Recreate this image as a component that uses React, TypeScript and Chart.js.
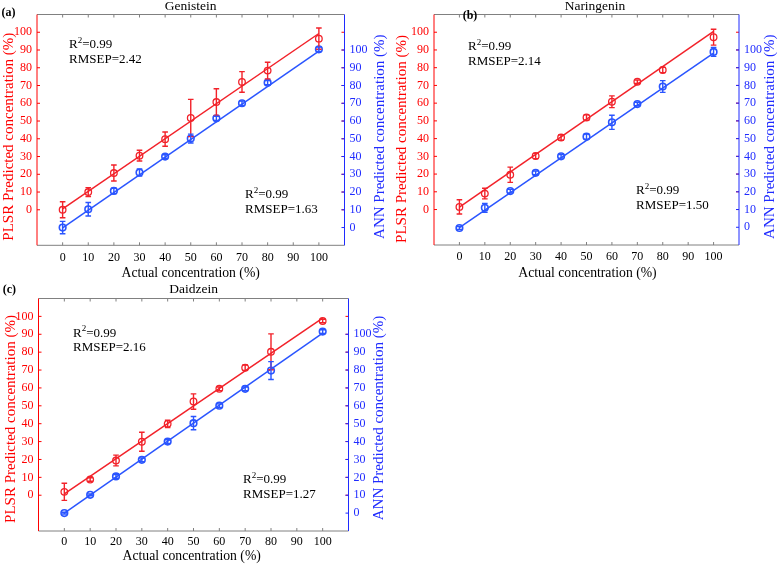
import React, { useEffect, useRef } from 'react';
import { Chart, registerables } from 'chart.js';

Chart.register(...registerables);

const FONT = '"Liberation Serif", "Times New Roman", Times, serif';
const RED_TEXT = '#ff0000';
const BLUE_TEXT = '#1f2bff';
const RED_LINE = '#f2222a';
const BLUE_LINE = '#2a55ff';
const GRAY = '#808080';

// ---- shared data ----
const concentrations = [0, 10, 20, 30, 40, 50, 60, 70, 80, 100];
const fitRange = [0, 100];
const xTickValues = [0, 10, 20, 30, 40, 50, 60, 70, 80, 90, 100];
const plsrTickValues = [0, 10, 20, 30, 40, 50, 60, 70, 80, 90, 100];
const annTickValues = [0, 10, 20, 30, 40, 50, 60, 70, 80, 90, 100];

// ---- (a) Genistein ----
const genPlsr = [0, 10, 20.7, 30.5, 39.8, 51.7, 60.7, 72, 78.4, 96.4];
const genPlsrErr = [4.5, 2.5, 4.5, 3, 4, 10.5, 7.5, 5.8, 4.7, 6];
const genAnn = [0, 10.3, 20.6, 31, 40, 50.1, 61.5, 70, 81.6, 100.4];
const genAnnErr = [3.5, 3.8, 1.5, 2, 1, 2.5, 1.2, 1.2, 1.2, 1.2];
const genPlsrFit = [0.5, 99.3];
const genAnnFit = [-0.2, 99.4];
const genPlsrStats = ['0.99', '2.42'];
const genAnnStats = ['0.99', '1.63'];

// ---- (b) Naringenin ----
const narPlsr = [1.5, 9, 19.6, 30.2, 40.6, 51.9, 60.8, 72.1, 78.7, 97.2];
const narPlsrErr = [4, 3, 4.3, 1.5, 1.5, 1.5, 3.3, 1, 1.5, 4.5];
const narAnn = [-0.4, 11, 20.4, 30.7, 40, 51.1, 59.2, 69.5, 79.4, 98.9];
const narAnnErr = [0.8, 2.5, 1, 1, 1, 1.5, 4, 1, 3.3, 2.5];
const narPlsrFit = [1.3, 100.5];
const narAnnFit = [-0.2, 98.2];
const narPlsrStats = ['0.99', '2.14'];
const narAnnStats = ['0.99', '1.50'];

// ---- (c) Daidzein ----
const daiPlsr = [1.9, 8.8, 19.4, 29.9, 39.9, 52.4, 59.5, 71.3, 80.2, 97.4];
const daiPlsrErr = [4.8, 1, 3, 5.3, 2, 4.3, 1, 1.5, 10, 1];
const daiAnn = [0, 10.2, 20.5, 29.8, 40, 50.3, 60.1, 69.5, 79.7, 101.5];
const daiAnnErr = [0.5, 0.5, 1, 1, 1, 3.7, 1, 1, 5, 1];
const daiPlsrFit = [0.7, 99];
const daiAnnFit = [0, 100.6];
const daiPlsrStats = ['0.99', '2.16'];
const daiAnnStats = ['0.99', '1.27'];

const X_TITLE = 'Actual concentration (%)';
const YL_TITLE = 'PLSR Predicted concentration (%)';
const YR_TITLE = 'ANN Predicted concentration (%)';

type Pt = { x: number; y: number };
type PanelSpec = {
  tag: string;
  title: string;
  plsr: number[];
  plsrErr: number[];
  ann: number[];
  annErr: number[];
  plsrFit: number[];
  annFit: number[];
  plsrStats: string[];
  annStats: string[];
  left: number;
  top: number;
  width: number;
  height: number;
  area: { l: number; r: number; t: number; b: number };
  tagPos: Pt;
  titlePos: Pt;
  xTitlePos: Pt;
  yLTitlePos: Pt;
  yRTitlePos: Pt;
  stat1: Pt;
  stat2: Pt;
  xTickPad: number;
};

const panels: PanelSpec[] = [
  {
    tag: '(a)', title: 'Genistein',
    plsr: genPlsr, plsrErr: genPlsrErr, ann: genAnn, annErr: genAnnErr,
    plsrFit: genPlsrFit, annFit: genAnnFit, plsrStats: genPlsrStats, annStats: genAnnStats,
    left: 0, top: 0, width: 390, height: 280,
    area: { l: 37, r: 344.5, t: 14.5, b: 245.3 },
    tagPos: { x: 1.5, y: 16 }, titlePos: { x: 190.7, y: 9.5 }, xTitlePos: { x: 190.7, y: 276.5 },
    yLTitlePos: { x: 12.5, y: 136.7 }, yRTitlePos: { x: 383.5, y: 136.7 },
    stat1: { x: 69, y: 48.3 }, stat2: { x: 245, y: 198 }, xTickPad: 5,
  },
  {
    tag: '(b)', title: 'Naringenin',
    plsr: narPlsr, plsrErr: narPlsrErr, ann: narAnn, annErr: narAnnErr,
    plsrFit: narPlsrFit, annFit: narAnnFit, plsrStats: narPlsrStats, annStats: narAnnStats,
    left: 390, top: 0, width: 390, height: 280,
    area: { l: 44, r: 349, t: 14.5, b: 245 },
    tagPos: { x: 72.7, y: 19 }, titlePos: { x: 205, y: 10 }, xTitlePos: { x: 197.5, y: 276.7 },
    yLTitlePos: { x: 16, y: 139 }, yRTitlePos: { x: 383.5, y: 136.7 },
    stat1: { x: 78, y: 50 }, stat2: { x: 246, y: 194 }, xTickPad: 5,
  },
  {
    tag: '(c)', title: 'Daidzein',
    plsr: daiPlsr, plsrErr: daiPlsrErr, ann: daiAnn, annErr: daiAnnErr,
    plsrFit: daiPlsrFit, annFit: daiAnnFit, plsrStats: daiPlsrStats, annStats: daiAnnStats,
    left: 0, top: 280, width: 390, height: 286,
    area: { l: 38.5, r: 348.5, t: 18.5, b: 251 },
    tagPos: { x: 2.7, y: 13 }, titlePos: { x: 193.7, y: 13.3 }, xTitlePos: { x: 191.7, y: 279.5 },
    yLTitlePos: { x: 14.5, y: 139 }, yRTitlePos: { x: 383.3, y: 138 },
    stat1: { x: 73, y: 56.7 }, stat2: { x: 243, y: 203 }, xTickPad: 4,
  },
];

function drawText(
  ctx: CanvasRenderingContext2D, s: string, x: number, y: number, size: number, color: string,
  align: CanvasTextAlign = 'left', rot = 0, weight = 'normal'
) {
  ctx.save();
  ctx.translate(x, y);
  if (rot) ctx.rotate(rot);
  ctx.font = `${weight} ${size}px ${FONT}`;
  ctx.fillStyle = color;
  ctx.textAlign = align;
  ctx.textBaseline = 'alphabetic';
  ctx.fillText(s, 0, 0);
  ctx.restore();
}

function drawStats(ctx: CanvasRenderingContext2D, pos: Pt, stats: string[]) {
  ctx.save();
  ctx.fillStyle = '#000';
  ctx.textBaseline = 'alphabetic';
  ctx.textAlign = 'left';
  ctx.font = `13px ${FONT}`;
  ctx.fillText('R', pos.x, pos.y);
  const w1 = ctx.measureText('R').width;
  ctx.font = `9px ${FONT}`;
  ctx.fillText('2', pos.x + w1, pos.y - 5.5);
  const w2 = ctx.measureText('2').width;
  ctx.font = `13px ${FONT}`;
  ctx.fillText('=' + stats[0], pos.x + w1 + w2, pos.y);
  ctx.fillText('RMSEP=' + stats[1], pos.x, pos.y + 14.7);
  ctx.restore();
}

function drawErrorBars(ctx: CanvasRenderingContext2D, xs: any, ys: any, xv: number[], yv: number[], ev: number[], color: string) {
  ctx.save();
  ctx.strokeStyle = color;
  ctx.lineWidth = 1.4;
  for (let i = 0; i < xv.length; i++) {
    const px = xs.getPixelForValue(xv[i]);
    const y1 = ys.getPixelForValue(yv[i] - ev[i]);
    const y2 = ys.getPixelForValue(yv[i] + ev[i]);
    ctx.beginPath();
    ctx.moveTo(px, y1); ctx.lineTo(px, y2);
    ctx.moveTo(px - 2.8, y1); ctx.lineTo(px + 2.8, y1);
    ctx.moveTo(px - 2.8, y2); ctx.lineTo(px + 2.8, y2);
    ctx.stroke();
  }
  ctx.restore();
}

function makeDeco(p: PanelSpec) {
  return {
    id: 'deco',
    afterDatasetsDraw(chart: any) {
      const ctx = chart.ctx;
      const xs = chart.scales.x, yl = chart.scales.yL, yr = chart.scales.yR;
      drawErrorBars(ctx, xs, yl, concentrations, p.plsr, p.plsrErr, RED_LINE);
      drawErrorBars(ctx, xs, yr, concentrations, p.ann, p.annErr, BLUE_LINE);
    },
    afterDraw(chart: any) {
      const ctx: CanvasRenderingContext2D = chart.ctx;
      const { left, right, top, bottom } = chart.chartArea;
      const xs = chart.scales.x, yl = chart.scales.yL, yr = chart.scales.yR;
      ctx.save();
      ctx.lineWidth = 1;
      // box
      ctx.strokeStyle = GRAY;
      ctx.beginPath();
      ctx.moveTo(left, top); ctx.lineTo(right, top);
      ctx.moveTo(left, bottom); ctx.lineTo(right, bottom);
      ctx.stroke();
      // x ticks (inward, top and bottom)
      ctx.beginPath();
      for (const v of xTickValues) {
        const px = xs.getPixelForValue(v);
        ctx.moveTo(px, bottom); ctx.lineTo(px, bottom - 3);
        ctx.moveTo(px, top); ctx.lineTo(px, top + 3);
      }
      ctx.stroke();
      // red axis + ticks
      ctx.strokeStyle = RED_TEXT;
      ctx.beginPath();
      ctx.moveTo(left, top); ctx.lineTo(left, bottom);
      for (const v of plsrTickValues) {
        const py = yl.getPixelForValue(v);
        ctx.moveTo(left, py); ctx.lineTo(left + 3, py);
        ctx.moveTo(right, py); ctx.lineTo(right - 3, py);
      }
      ctx.stroke();
      // blue axis + ticks
      ctx.strokeStyle = BLUE_TEXT;
      ctx.beginPath();
      ctx.moveTo(right, top); ctx.lineTo(right, bottom);
      for (const v of annTickValues) {
        const py = yr.getPixelForValue(v);
        ctx.moveTo(right, py); ctx.lineTo(right - 3, py);
      }
      ctx.stroke();
      ctx.restore();

      // texts
      drawText(ctx, p.tag, p.tagPos.x, p.tagPos.y, 12, '#000', 'left', 0, 'bold');
      drawText(ctx, p.title, p.titlePos.x, p.titlePos.y, 13.5, '#000', 'center');
      drawText(ctx, X_TITLE, p.xTitlePos.x, p.xTitlePos.y, 13.7, '#000', 'center');
      drawText(ctx, YL_TITLE, p.yLTitlePos.x, p.yLTitlePos.y, 15, RED_TEXT, 'center', -Math.PI / 2);
      drawText(ctx, YR_TITLE, p.yRTitlePos.x, p.yRTitlePos.y, 15, BLUE_TEXT, 'center', -Math.PI / 2);
      drawStats(ctx, p.stat1, p.plsrStats);
      drawStats(ctx, p.stat2, p.annStats);
    },
  };
}

function Panel({ spec }: { spec: PanelSpec }) {
  const ref = useRef<HTMLCanvasElement | null>(null);
  useEffect(() => {
    const canvas = ref.current;
    if (!canvas) return;
    const p = spec;
    const tickFont = { family: FONT, size: 12 };
    const chart = new Chart(canvas, {
      type: 'scatter',
      data: {
        datasets: [
          {
            type: 'line',
            data: fitRange.map((x, i) => ({ x, y: p.plsrFit[i] })),
            yAxisID: 'yL',
            borderColor: RED_LINE,
            borderWidth: 1.5,
            pointRadius: 0,
            fill: false,
          } as any,
          {
            type: 'line',
            data: fitRange.map((x, i) => ({ x, y: p.annFit[i] })),
            yAxisID: 'yR',
            borderColor: BLUE_LINE,
            borderWidth: 1.5,
            pointRadius: 0,
            fill: false,
          } as any,
          {
            type: 'scatter',
            data: concentrations.map((x, i) => ({ x, y: p.plsr[i] })),
            yAxisID: 'yL',
            pointStyle: 'circle',
            pointRadius: 3.3,
            borderColor: RED_LINE,
            backgroundColor: 'rgba(0,0,0,0)',
            borderWidth: 1.3,
          } as any,
          {
            type: 'scatter',
            data: concentrations.map((x, i) => ({ x, y: p.ann[i] })),
            yAxisID: 'yR',
            pointStyle: 'circle',
            pointRadius: 3.3,
            borderColor: BLUE_LINE,
            backgroundColor: 'rgba(0,0,0,0)',
            borderWidth: 1.6,
          } as any,
        ],
      },
      options: {
        animation: false,
        responsive: false,
        devicePixelRatio: 1,
        layout: { padding: { top: p.area.t, left: 0, right: 0, bottom: 0 } },
        plugins: { legend: { display: false }, tooltip: { enabled: false }, title: { display: false } },
        scales: {
          x: {
            type: 'linear', axis: 'x', position: 'bottom', min: -10, max: 110,
            grid: { display: false, drawTicks: false },
            border: { display: false },
            ticks: { font: tickFont, color: '#000', padding: p.xTickPad, autoSkip: false, maxRotation: 0 },
            afterBuildTicks: (s: any) => { s.ticks = xTickValues.map((v) => ({ value: v })); },
            afterFit: (s: any) => { s.height = p.height - p.area.b; },
          },
          yL: {
            type: 'linear', axis: 'y', position: 'left', min: -20, max: 110,
            grid: { display: false, drawTicks: false },
            border: { display: false },
            ticks: { font: tickFont, color: RED_TEXT, padding: 5, autoSkip: false },
            afterBuildTicks: (s: any) => { s.ticks = plsrTickValues.map((v) => ({ value: v })); },
            afterFit: (s: any) => { s.width = p.area.l; },
          },
          yR: {
            type: 'linear', axis: 'y', position: 'right', min: -10, max: 120,
            grid: { display: false, drawTicks: false },
            border: { display: false },
            ticks: { font: tickFont, color: BLUE_TEXT, padding: 5, autoSkip: false },
            afterBuildTicks: (s: any) => { s.ticks = annTickValues.map((v) => ({ value: v })); },
            afterFit: (s: any) => { s.width = p.width - p.area.r; },
          },
        },
      } as any,
      plugins: [makeDeco(p)],
    });
    return () => chart.destroy();
  }, [spec]);
  return (
    <canvas
      ref={ref}
      width={spec.width}
      height={spec.height}
      style={{ position: 'absolute', left: spec.left, top: spec.top, width: spec.width, height: spec.height }}
    />
  );
}

export default function App() {
  return (
    <div style={{ position: 'absolute', left: 0, top: 0, width: 780, height: 566, background: '#fff', overflow: 'hidden' }}>
      {panels.map((p) => (
        <Panel key={p.tag} spec={p} />
      ))}
    </div>
  );
}
